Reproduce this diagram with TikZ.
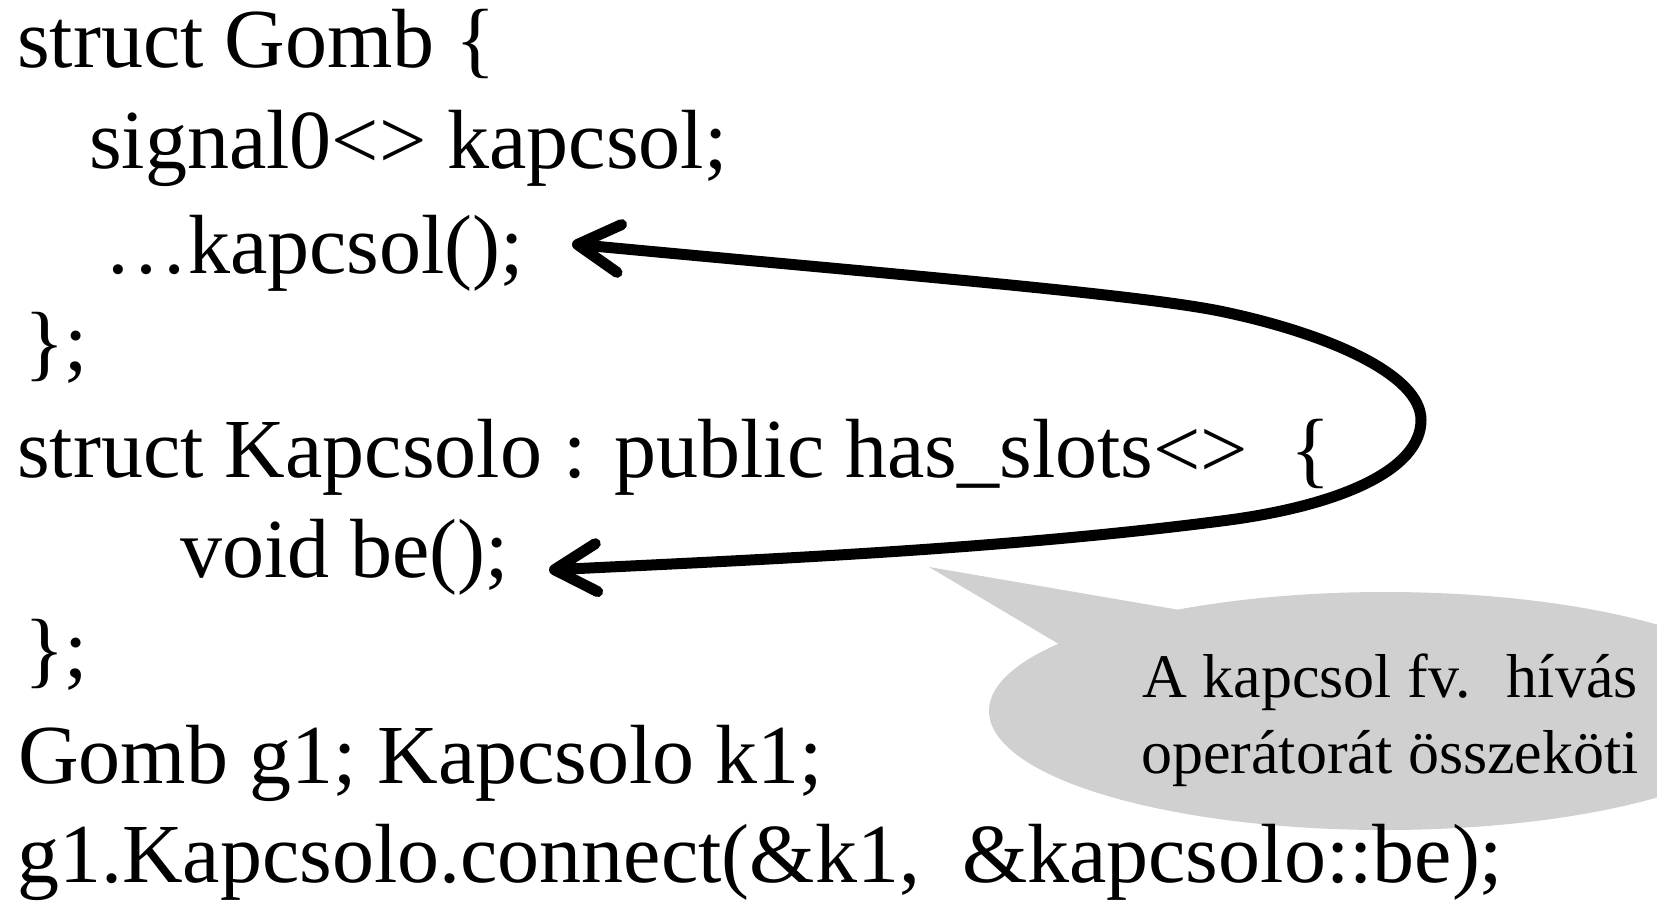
\documentclass[tikz,border=0pt]{standalone}
\usepackage{fontspec}
\setmainfont{Liberation Serif}
\usetikzlibrary{arrows.meta,shapes.callouts}
\definecolor{bubblegray}{RGB}{208,208,208}
\begin{document}
\begin{tikzpicture}[x=1pt,y=-1pt,
  code/.style={anchor=base west, inner sep=0pt, font=\fontsize{84pt}{100pt}\selectfont},
  note/.style={anchor=base, inner sep=0pt, font=\fontsize{62pt}{76pt}\selectfont},
  barb/.tip={Straight Barb[length=42pt,width=48pt,round]},
  link/.style={line width=11pt, line cap=round, line join=round, barb-barb},
  bubble/.style={ellipse callout, fill=bubblegray, draw=none, inner sep=0pt,
    minimum width=792pt, minimum height=238pt, callout pointer arc=24}
]
\useasboundingbox (0,0) rectangle (1657,902);

% speech bubble, cut off by the right edge
\begin{scope}
  \clip (0,0) rectangle (1657,902);
  \node[bubble, callout absolute pointer={(929,567)}] (bubble) at (1385,711) {};
\end{scope}

% source code lines
\node[code] (l1) at (17,67)  {struct Gomb \{};
\node[code] (l2) at (89,168) {signal0<> kapcsol;};
\node[code] (l3) at (104,273) {…kapcsol();};
\node[code] (l4) at (24,370) {\};};
\node[code] (l5) at (17,477) {struct Kapcsolo : public has\_slots<> \ \{};
\node[code] (l6) at (180,577) {void be();};
\node[code] (l7) at (24,677) {\};};
\node[code] (l8) at (18,783) {Gomb g1; Kapcsolo k1;};
\node[code] (l9) at (17,882) {g1.Kapcsolo.connect(\&k1, \ \&kapcsolo::be);};

% bubble text
\node[note] (n1) at (1390,697) {A kapcsol fv. \ hívás};
\node[note] (n2) at (1390,773) {operátorát összeköti};

% connection between the signal call and the slot
\coordinate (tipA) at (572,244);
\coordinate (tipB) at (549,570);
\draw[link] (tipA) .. controls (900,275) and (1150,295) .. (1229,313)
  .. controls (1330,335) and (1421,375) .. (1421,420)
  .. controls (1421,470) and (1340,505) .. (1229,520)
  .. controls (1000,550) and (750,560) .. (tipB);
\end{tikzpicture}
\end{document}
